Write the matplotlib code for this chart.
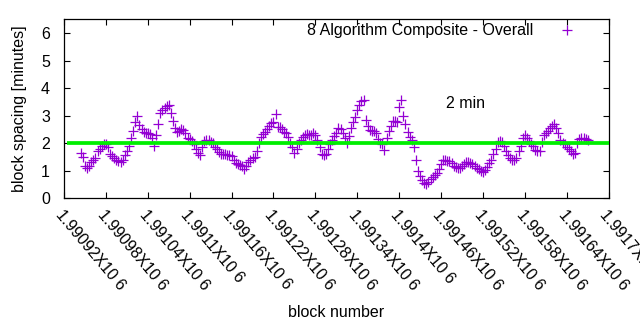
import numpy as np
import matplotlib
matplotlib.use("Agg")
import matplotlib.pyplot as plt

plt.rcParams['font.family'] = ['Liberation Sans', 'DejaVu Sans']
plt.rcParams['font.size'] = 11.5

# block spacing in minutes, one reading every 3 blocks starting at first_block
first_block = 1990944
block_step = 3
spacing = [
    1.65, 1.50, 1.15, 1.10, 1.18, 1.30, 1.38, 1.45, 1.72, 1.80,
    1.88, 1.95, 1.98, 1.85, 1.60, 1.52, 1.46, 1.40, 1.34, 1.30,
    1.38, 1.58, 1.72, 1.90, 2.20, 2.45, 2.75, 3.00, 2.65, 2.50,
    2.42, 2.38, 2.35, 2.32, 2.20, 1.90, 2.30, 2.70, 3.10, 3.20,
    3.28, 3.35, 3.38, 3.10, 2.80, 2.55, 2.40, 2.45, 2.50, 2.48,
    2.35, 2.20, 2.15, 2.08, 1.95, 1.80, 1.65, 1.55, 1.85, 2.08,
    2.10, 2.12, 2.05, 2.02, 1.85, 1.80, 1.68, 1.62, 1.60, 1.62,
    1.58, 1.55, 1.52, 1.38, 1.28, 1.25, 1.20, 1.15, 1.05, 1.18,
    1.30, 1.38, 1.45, 1.48, 1.70, 2.00, 2.22, 2.32, 2.40, 2.50,
    2.62, 2.72, 2.75, 3.05, 2.60, 2.60, 2.52, 2.42, 2.35, 2.22,
    2.02, 1.85, 1.65, 1.80, 2.00, 2.12, 2.22, 2.30, 2.32, 2.28,
    2.30, 2.35, 2.28, 2.12, 1.85, 1.60, 1.55, 1.62, 1.80, 1.95,
    2.10, 2.25, 2.35, 2.55, 2.52, 2.35, 2.20, 2.02, 2.25, 2.55,
    2.75, 2.95, 3.20, 3.40, 3.52, 3.58, 2.85, 2.62, 2.48, 2.45,
    2.45, 2.35, 2.15, 2.02, 1.95, 1.75, 2.20, 2.45, 2.62, 2.80,
    2.82, 2.78, 3.30, 3.55, 3.00, 2.70, 2.42, 2.22, 2.10, 1.85,
    1.40, 1.00, 0.80, 0.65, 0.55, 0.50, 0.58, 0.68, 0.75, 0.82,
    0.92, 1.05, 1.25, 1.38, 1.40, 1.36, 1.33, 1.28, 1.18, 1.12,
    1.10, 1.10, 1.18, 1.25, 1.32, 1.32, 1.28, 1.22, 1.15, 1.10,
    1.05, 1.00, 0.95, 1.02, 1.12, 1.28, 1.40, 1.60, 1.80, 2.05,
    2.08, 2.05, 1.88, 1.70, 1.55, 1.45, 1.40, 1.38, 1.45, 1.70,
    1.90, 2.20, 2.30, 2.20, 2.08, 1.95, 1.90, 1.75, 1.72, 1.70,
    2.05, 2.30, 2.38, 2.45, 2.55, 2.62, 2.70, 2.55, 2.35, 2.12,
    2.02, 1.98, 1.85, 1.80, 1.72, 1.62, 1.65, 2.00, 2.15, 2.18,
    2.20, 2.15, 2.12,
]
blocks = first_block + block_step * np.arange(len(spacing))

target_minutes = 2
x_ticks = [1990920 + 60 * k for k in range(14)]
x_labels = ['%gX10 6' % (t / 1e6) for t in x_ticks]
y_ticks = [0, 1, 2, 3, 4, 5, 6]

fig = plt.figure(figsize=(6.4, 3.3), dpi=100)
ax = fig.add_axes([0.1, 0.4, 0.851, 0.541])

ax.plot(blocks, spacing, linestyle='none', marker='+', markersize=6.5,
        markeredgewidth=0.9, color='#9400d3', label='8 Algorithm Composite - Overall')
ax.hlines(target_minutes, 1990924, x_ticks[-1], color='#00ee00', linewidth=2.7, zorder=3)
ax.text(1991467, 3.45, '2 min', va='center', ha='left')

ax.set_xlim(x_ticks[0], x_ticks[-1])
ax.set_ylim(0, 6.5)
ax.set_yticks(y_ticks)
ax.set_xticks(x_ticks)
ax.set_xticklabels(x_labels, rotation=-50, ha='left', va='top', rotation_mode='anchor')
ax.tick_params(direction='in', length=4, width=0.8, top=True, right=True)
ax.tick_params(axis='y', pad=10)
ax.tick_params(axis='x', pad=7)
for s in ax.spines.values():
    s.set_linewidth(0.9)

ax.set_xlabel('block number', labelpad=8)
ax.set_ylabel('block spacing [minutes]', labelpad=10)

ax.legend(loc='upper right', bbox_to_anchor=(0.964, 1.015), borderaxespad=0,
          frameon=False, markerfirst=False, handlelength=2, handletextpad=1.1)

fig.savefig('out.png')
